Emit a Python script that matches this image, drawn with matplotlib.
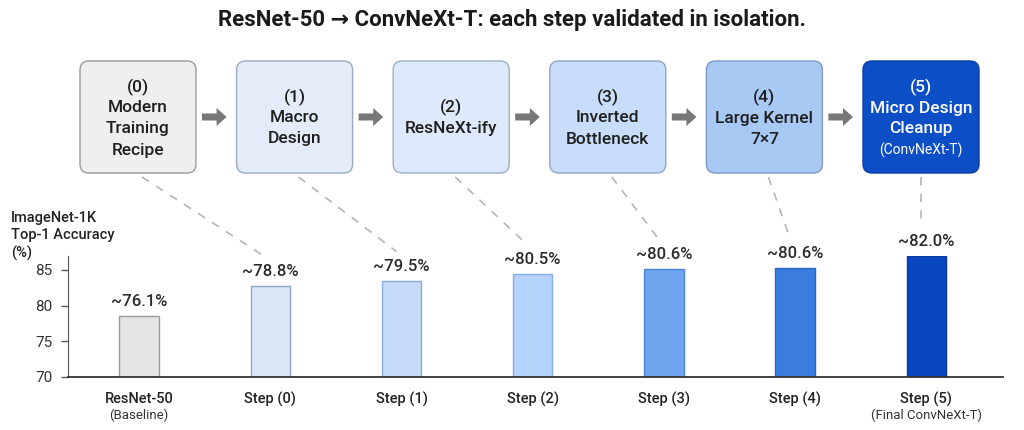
import matplotlib.pyplot as plt
import numpy as np
from matplotlib.patches import FancyBboxPatch, FancyArrow

plt.rcParams['font.family'] = ['Roboto', 'DejaVu Sans']

# pipeline steps (top row)
step_ids = ["(0)", "(1)", "(2)", "(3)", "(4)", "(5)"]
step_names = ["Modern\nTraining\nRecipe", "Macro\nDesign", "ResNeXt-ify",
              "Inverted\nBottleneck", "Large Kernel\n7\u00d77", "Micro Design\nCleanup"]
step_notes = ["", "", "", "", "", "(ConvNeXt-T)"]

# bar chart
bar_names = ["ResNet-50", "Step (0)", "Step (1)", "Step (2)", "Step (3)", "Step (4)", "Step (5)"]
bar_notes = ["(Baseline)", "", "", "", "", "", "(Final ConvNeXt-T)"]
bar_heights = [78.5, 82.75, 83.5, 84.4, 85.2, 85.3, 87.0]
bar_labels = ["~76.1%", "~78.8%", "~79.5%", "~80.5%", "~80.6%", "~80.6%", "~82.0%"]

bar_colors = ['#e4e4e4', '#dae5f5', '#c6dbf9', '#b5d2fa', '#6fa4ee', '#3b7ddf', '#0b46c1']
bar_edges = ['#9a9a9a', '#8ea7c9', '#86aadf', '#86aee6', '#4d86d8', '#2a66c6', '#083a9e']
box_colors = ['#efefef', '#e3ecf8', '#deeafb', '#c7ddf9', '#a9c9f5', '#0b4ec6']
box_edges = ['#9a9a9a', '#9aabc0', '#9aafc8', '#8ea6c6', '#7d9ac4', '#0a3fa6']

W, H = 1024, 430
fig = plt.figure(figsize=(W / 100, H / 100), dpi=100)
fig.patch.set_facecolor('white')

# ---- bars ----
ax = fig.add_axes([68 / W, 53.3 / H, 935 / W, 121 / H])
x = np.arange(len(bar_heights))
ax.bar(x, bar_heights, width=0.30, color=bar_colors, edgecolor=bar_edges, linewidth=1.0, zorder=2)
ax.set_ylim(70, 87)
ax.set_xlim(-0.542, 6.584)
ax.set_yticks([70, 75, 80, 85])
ax.tick_params(axis='y', labelsize=11, colors='#555555', length=5, width=1, pad=6)
for t in ax.get_yticklabels():
    t.set_color('#333333')
ax.set_xticks(x)
ax.set_xticklabels(bar_names, fontsize=10.5, color='#222222', fontweight='medium')
ax.tick_params(axis='x', length=0, pad=11)
for sp in ['top', 'right']:
    ax.spines[sp].set_visible(False)
ax.spines['left'].set_color('#555555')
ax.spines['bottom'].set_color('#333333')
ax.spines['bottom'].set_linewidth(1.3)
ax.set_facecolor('none')

for xi, h, lab in zip(x, bar_heights, bar_labels):
    ax.annotate(lab, (xi, h), xytext=(0, 5), textcoords='offset points',
                ha='center', va='bottom', fontsize=12, color='#2a2a2a', fontweight='medium')
for xi, note in zip(x, bar_notes):
    if note:
        ax.annotate(note, (xi, 70), xytext=(0, -28), textcoords='offset points',
                    ha='center', va='center', fontsize=9.5, color='#333333')

fig.text(11 / W, 1 - 211 / H, "ImageNet-1K\nTop-1 Accuracy\n(%)", ha='left', va='top',
         fontsize=10.5, color='#222222', fontweight='medium', linespacing=1.3)

# ---- overlay for boxes, arrows and connectors ----
ov = fig.add_axes([0, 0, 1, 1], zorder=3)
ov.set_xlim(0, W)
ov.set_ylim(H, 0)
ov.axis('off')
ov.patch.set_alpha(0)

ov.text(W / 2, 20, "ResNet-50 \u2192 ConvNeXt-T: each step validated in isolation.",
        ha='center', va='center', fontsize=16, fontweight='bold', color='#1a1a1a')

bw, bh, top, pitch, c0 = 116, 112, 61, 156.6, 138
fig.canvas.draw()
for i in range(len(step_ids)):
    cx = c0 + i * pitch
    ov.add_patch(FancyBboxPatch((cx - bw / 2, top), bw, bh,
                                boxstyle="round,pad=0,rounding_size=9",
                                fc=box_colors[i], ec=box_edges[i], lw=1.0))
    tc = 'white' if i == len(step_ids) - 1 else '#1f1f1f'
    n_lines = step_names[i].count('\n') + 1 + (1 if step_notes[i] else 0)
    cy = top + bh / 2
    start = cy - n_lines * 10
    ov.text(cx, start, step_ids[i], ha='center', va='center', fontsize=12.5,
            color=tc, fontweight='medium')
    for k, line in enumerate(step_names[i].split('\n')):
        ov.text(cx, start + 21 * (k + 1), line, ha='center', va='center', fontsize=12.5,
                color=tc, fontweight='medium')
    if step_notes[i]:
        ov.text(cx, start + 21 * n_lines, step_notes[i], ha='center', va='center',
                fontsize=10, color=tc)
    if i < len(step_ids) - 1:
        ov.add_patch(FancyArrow(cx + bw / 2 + 6, top + bh / 2, pitch - bw - 16, 0,
                                width=7, head_width=18, head_length=10,
                                length_includes_head=True, fc='#777777', ec='none'))
    # dashed connector to the matching bar label
    dx, dy = ax.transData.transform((i + 1, bar_heights[i + 1]))
    ex, ey = dx - 5, H - dy - 29
    sx = cx + 4 if i < len(step_ids) - 1 else cx
    if i == len(step_ids) - 1:
        ex = sx
    ov.plot([sx, ex], [top + bh + 4, ey], ls=(0, (5, 5)), color='#b5b5b5', lw=1.2)

fig.savefig('out.png', dpi=100)
